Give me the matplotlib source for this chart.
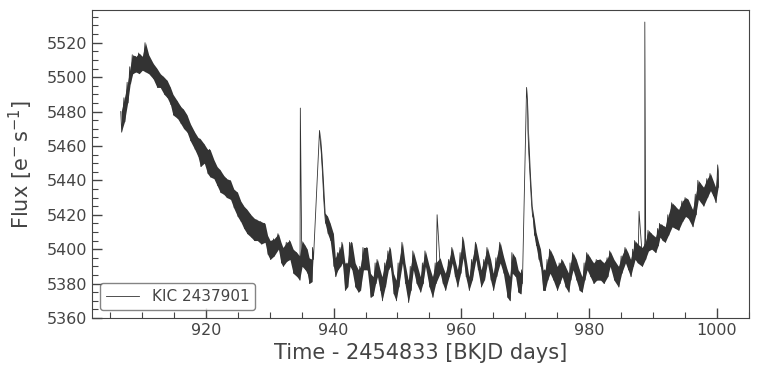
import numpy as np
import matplotlib.pyplot as plt
from matplotlib.ticker import MultipleLocator

# light curve: time and upper / lower edge of the noisy band
time = [906.7, 907.2, 907.7, 908.1, 908.5, 909.0, 909.5, 910.0, 910.5, 911.0,
        911.7, 912.3, 912.8, 913.4, 913.9, 914.4, 914.8, 915.5, 916.0, 916.5,
        917.0, 917.5, 918.2, 918.7, 919.1, 919.7, 920.2, 920.6, 921.2, 921.7,
        922.2, 922.7, 923.2, 923.8, 924.3, 924.9, 925.4, 925.9, 926.4, 927.0,
        927.5, 928.0, 928.6, 929.2, 929.6, 930.0, 930.6, 931.3, 931.7, 932.0,
        932.6, 933.1, 933.6, 934.2, 934.6, 935.0, 935.5, 935.8, 936.1, 936.5,
        936.7,
        937.8, 938.1, 938.3, 938.6, 939.0, 939.4, 939.9, 940.2, 940.6, 941.0,
        941.3, 941.7, 942.1, 942.5, 942.8, 943.3, 943.8, 944.1, 944.6, 945.2,
        945.7, 946.1, 946.5, 946.8, 947.2, 947.5, 948.0, 948.5, 948.8, 949.3,
        949.7, 950.1, 950.7, 951.1, 951.6, 952.0, 952.4, 952.9, 953.5, 953.9,
        954.3, 954.9, 955.4, 955.9, 956.6, 957.0, 957.4, 958.0, 958.5, 958.9,
        959.3, 959.8, 960.2, 960.6, 961.1, 961.6, 962.2, 962.5, 963.0, 963.5,
        964.0, 964.5, 964.9, 965.4, 966.0, 966.5, 967.1, 967.5, 967.9, 968.4,
        968.8, 969.2, 969.4,
        970.2, 970.4, 970.7, 971.0, 971.3, 971.6, 972.0, 972.3, 972.7, 973.0,
        973.4, 973.8, 974.3, 974.9, 975.3, 975.7, 976.2, 976.7, 977.0, 977.4,
        977.9, 978.4, 978.8, 979.2, 979.6, 980.1, 980.6, 981.1, 981.7, 982.2,
        982.8, 983.2, 983.8, 984.5, 985.0, 985.6, 986.0, 986.4, 986.8, 987.1,
        987.5, 988.2, 988.7, 989.2, 989.7, 990.3, 990.7, 991.0, 991.4, 991.8,
        992.3, 992.9, 993.4, 993.9, 994.5, 995.0, 995.4, 996.1, 996.6, 997.0,
        997.4, 997.8, 998.4, 998.9, 999.3, 999.7, 1000.1]
flux_hi = [5480, 5488, 5497, 5506, 5513, 5512, 5514, 5512, 5520, 5513,
           5508, 5505, 5502, 5500, 5498, 5494, 5490, 5486, 5483, 5481,
           5478, 5473, 5468, 5465, 5464, 5461, 5458, 5458, 5452, 5448,
           5446, 5443, 5441, 5440, 5435, 5433, 5428, 5425, 5423, 5420,
           5418, 5417, 5416, 5415, 5408, 5405, 5406, 5409, 5404, 5401,
           5404, 5405, 5400, 5398, 5396, 5405, 5402, 5400, 5395, 5394,
           5401,
           5469, 5455, 5442, 5421, 5419, 5415, 5409, 5395, 5398, 5401,
           5404, 5392, 5392, 5404, 5404, 5392, 5388, 5390, 5401, 5401,
           5386, 5384, 5392, 5394, 5388, 5384, 5392, 5399, 5401, 5386,
           5382, 5392, 5404, 5392, 5382, 5390, 5399, 5392, 5384, 5392,
           5399, 5390, 5384, 5392, 5395, 5390, 5386, 5394, 5401, 5394,
           5388, 5398, 5407, 5396, 5384, 5394, 5404, 5398, 5388, 5394,
           5401, 5394, 5386, 5395, 5404, 5396, 5388, 5384, 5398, 5395,
           5388, 5386, 5388,
           5494, 5470, 5445, 5425, 5418, 5410, 5404, 5400, 5388, 5388,
           5394, 5400, 5396, 5390, 5392, 5394, 5390, 5386, 5392, 5398,
           5394, 5388, 5384, 5392, 5398, 5395, 5392, 5394, 5394, 5392,
           5395, 5399, 5394, 5390, 5396, 5401, 5398, 5394, 5400, 5405,
           5403, 5401, 5404, 5411, 5409, 5407, 5412, 5415, 5414, 5413,
           5420, 5427, 5425, 5423, 5428, 5430, 5429, 5423, 5432, 5440,
           5438, 5436, 5441, 5444, 5440, 5436, 5449]
flux_lo = [5468, 5474, 5485, 5496, 5502, 5503, 5502, 5504, 5503, 5502,
           5499, 5494, 5494, 5490, 5488, 5484, 5478, 5476, 5473, 5470,
           5468, 5463, 5458, 5454, 5448, 5450, 5444, 5442, 5441, 5437,
           5433, 5432, 5430, 5429, 5424, 5419, 5416, 5412, 5409, 5407,
           5405, 5405, 5403, 5404, 5397, 5394, 5396, 5400, 5392, 5390,
           5393, 5394, 5386, 5384, 5382, 5390, 5388, 5386, 5380, 5381,
           5394,
           5462, 5445, 5430, 5415, 5409, 5405, 5390, 5384, 5388, 5390,
           5392, 5376, 5378, 5390, 5388, 5378, 5375, 5376, 5388, 5388,
           5372, 5373, 5380, 5384, 5376, 5370, 5378, 5388, 5390, 5374,
           5370, 5378, 5392, 5380, 5369, 5376, 5388, 5380, 5375, 5380,
           5390, 5378, 5372, 5380, 5386, 5380, 5376, 5384, 5392, 5384,
           5378, 5386, 5395, 5384, 5376, 5382, 5394, 5388, 5378, 5382,
           5392, 5382, 5376, 5384, 5392, 5386, 5372, 5370, 5386, 5384,
           5375, 5374, 5380,
           5486, 5456, 5435, 5419, 5408, 5402, 5394, 5390, 5376, 5376,
           5382, 5386, 5382, 5376, 5380, 5384, 5378, 5375, 5382, 5388,
           5382, 5376, 5375, 5382, 5388, 5384, 5380, 5382, 5382, 5380,
           5384, 5390, 5382, 5378, 5386, 5392, 5388, 5384, 5390, 5394,
           5392, 5390, 5394, 5399, 5400, 5398, 5402, 5407, 5405, 5404,
           5408, 5413, 5412, 5411, 5416, 5419, 5418, 5413, 5420, 5429,
           5427, 5425, 5430, 5434, 5431, 5427, 5436]

# single-cadence outliers
spike_time = [934.8, 956.2, 987.8, 988.7]
spike_flux = [5482, 5420, 5422, 5532]

time = np.array(time)
flux_hi = np.array(flux_hi)
flux_lo = np.array(flux_lo)

# zigzag through the band so the trace looks like dense noisy cadences
t_line = np.concatenate([np.column_stack([time, time + 0.15]).ravel(), spike_time])
f_line = np.concatenate([np.column_stack([flux_hi, flux_lo]).ravel(), spike_flux])
order = np.argsort(t_line, kind="stable")
t_line, f_line = t_line[order], f_line[order]

plt.rcParams["font.family"] = "DejaVu Sans"
fig = plt.figure(figsize=(7.59, 3.76), dpi=100)
ax = fig.add_axes([0.1212, 0.1543, 0.8656, 0.8191])

line_col = "#333333"
text_col = "#444444"

# fill the band piece by piece, leaving the data gaps open
breaks = np.where(np.diff(time) > 0.75)[0] + 1
for seg in np.split(np.arange(len(time)), breaks):
    ax.fill_between(time[seg] + 0.075, flux_lo[seg], flux_hi[seg],
                    color=line_col, lw=0)
ax.plot(t_line, f_line, color=line_col, lw=0.6, label="KIC 2437901")

ax.set_xlim(902.2, 1005.0)
ax.set_ylim(5360, 5539)
ax.xaxis.set_major_locator(MultipleLocator(20))
ax.xaxis.set_minor_locator(MultipleLocator(5))
ax.yaxis.set_major_locator(MultipleLocator(20))
ax.yaxis.set_minor_locator(MultipleLocator(5))
ax.tick_params(which="both", direction="in", colors=text_col, labelsize=11.5)
ax.tick_params(which="major", length=7, width=1)
ax.tick_params(which="minor", length=4, width=0.8)
for sp in ax.spines.values():
    sp.set_color(text_col)

ax.set_xlabel("Time - 2454833 [BKJD days]", fontsize=15, color=text_col)
ax.set_ylabel(r"Flux [$\mathrm{e^{-}\,s^{-1}}$]", fontsize=15, color=text_col,
              labelpad=8)

leg = ax.legend(loc="lower left", fontsize=11, frameon=True, fancybox=True,
                handlelength=2.2)
leg.get_frame().set_edgecolor("#666666")
leg.get_frame().set_linewidth(1)
for txt in leg.get_texts():
    txt.set_color(text_col)

fig.savefig("out.png", dpi=100)
